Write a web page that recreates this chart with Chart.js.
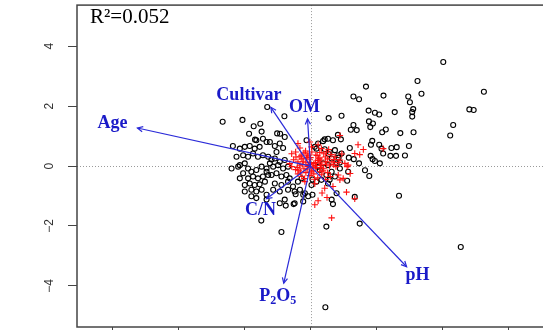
<!DOCTYPE html>
<html>
<head>
<meta charset="utf-8">
<script src="https://cdn.jsdelivr.net/npm/chart.js@4.4.1/dist/chart.umd.min.js"></script>
<style>
  html, body { margin: 0; padding: 0; overflow: hidden; background: #fff; }
  canvas { display: block; }
</style>
</head>
<body>
<canvas id="biplot" width="560" height="360"></canvas>
<script>
// sample scores (black circles)
const circleX = [4.02,3.24,5.25,1.68,3.36,1.30,1.47,2.21,2.96,3.01,3.11,3.08,3.08,4.81,4.94,1.76,1.95,2.08,2.55,0.94,
  0.55,4.32,4.23,1.77,1.89,1.30,1.22,1.40,1.81,2.28,2.17,2.72,3.12,0.83,0.92,-0.79,-1.52,-1.48,-2.66,-2.06,
  -1.72,-1.86,-1.31,-1.01,-0.92,-1.68,1.87,1.83,1.19,2.08,2.15,2.45,2.61,2.98,2.20,2.42,2.59,2.86,1.82,1.88,
  1.16,1.31,1.47,1.95,2.10,0.85,0.55,0.43,0.18,1.65,0.43,0.38,-0.12,0.13,0.23,0.53,0.68,0.58,0.74,0.84,
  0.94,-2.35,-2.14,-1.99,-1.84,-1.69,-1.54,-1.64,-1.44,-1.33,-1.23,-1.08,-0.93,-0.83,-0.78,-2.24,-2.04,-1.89,-1.74,-1.59,
  -1.44,-1.28,-1.23,-1.18,-1.08,-0.93,-0.78,-1.03,-2.39,-2.14,-1.99,-1.89,-1.79,-1.64,-1.48,-1.33,-1.13,-0.98,-0.83,-0.68,
  -2.19,-2.04,-2.14,-1.89,-1.74,-1.59,-1.44,-1.28,-1.33,-1.18,-1.03,-0.88,-0.73,-1.99,-1.84,-1.69,-1.54,-1.38,-1.08,-0.88,
  -0.68,-1.79,-1.64,-1.48,-1.99,-1.79,-1.64,-1.33,-1.13,-0.93,-0.68,-0.48,-0.32,-0.17,0.03,0.18,0.33,0.48,0.64,0.74,
  0.79,0.64,-0.48,-0.22,-0.07,-0.78,0.68,-0.38,-0.27,0.23,0.38,0.53,0.64,0.79,-0.93,-0.75,-0.51,-1.33,-1.49,-0.88,
  0.48,1.49,1.34,1.11,1.14,1.78,0.89,0.58,0.53,0.06,0.06,-0.22,-0.53,-0.45,-0.63,0.28,0.89,2.68,4.55,0.45];
const circleY = [3.47,2.84,2.48,2.65,2.41,2.32,2.23,2.35,2.32,2.13,1.90,1.80,1.65,1.89,1.87,1.85,1.78,1.72,1.80,1.68,
  1.60,1.37,1.02,1.49,1.42,1.37,1.21,1.20,1.30,1.22,1.13,1.10,1.13,1.04,0.89,1.66,1.41,1.15,1.48,1.54,
  1.33,1.08,1.97,1.09,1.08,0.88,0.84,0.71,0.60,0.71,0.58,0.60,0.63,0.67,0.42,0.34,0.34,0.35,0.34,0.23,
  0.28,0.23,0.09,0.17,0.09,0.28,0.40,0.56,0.58,-0.14,0.89,0.83,0.86,0.64,0.75,0.91,0.86,0.47,0.53,0.36,
  0.42,0.67,0.58,0.64,0.67,0.58,0.64,0.86,0.91,0.80,0.80,0.67,0.75,0.60,0.97,0.31,0.36,0.31,0.42,0.31,
  0.36,0.31,0.09,0.22,0.25,0.14,0.20,0.47,-0.08,0.03,0.09,-0.08,-0.19,-0.13,-0.02,-0.08,-0.02,0.03,-0.08,-0.02,
  -0.02,-0.24,-0.41,-0.41,-0.35,-0.41,-0.35,-0.30,-0.19,-0.30,-0.24,-0.35,-0.30,-0.63,-0.58,-0.63,-0.61,-0.52,-0.58,-0.63,
  -0.52,-0.79,-0.85,-0.79,-0.85,-1.01,-1.07,-0.96,-0.79,-0.85,-0.79,-0.85,-0.79,-0.91,-0.63,-0.52,-0.46,-0.30,-0.19,-0.35,
  -0.91,-1.12,-1.24,-1.18,-1.01,-1.12,-1.27,-0.52,-0.41,-0.02,0.09,0.03,0.25,0.09,-1.24,-1.32,-1.27,-1.12,-1.82,-2.20,
  -2.02,-1.92,-1.03,-0.49,-0.19,-0.33,-0.08,-0.46,-0.58,-0.45,-0.96,-0.96,-0.68,-0.94,-0.41,-0.13,0.12,-0.99,-2.70,-4.71];

// second group (red crosses)
const crossX = [-0.38,0.03,0.23,0.33,0.48,0.74,0.89,1.04,1.11,1.44,2.20,1.34,1.49,1.14,1.09,0.89,0.99,0.84,0.89,0.68,
  1.34,0.64,0.13,0.23,0.43,0.28,-0.57,-0.45,-0.32,-0.20,-0.08,0.04,0.16,0.28,0.40,0.52,-0.51,-0.38,-0.26,-0.14,
  -0.02,0.10,0.22,0.34,0.46,0.58,-0.57,-0.45,-0.32,-0.20,-0.08,0.04,0.16,0.28,0.40,0.52,-0.38,-0.26,-0.14,-0.02,
  0.10,0.22,0.34,0.46,-0.17,0.13,-0.63,0.65,0.77,-0.32,-0.02,-0.05,0.07,-0.10,0.15,-0.25,0.30,0.00,-0.40,0.45,
  0.60,-0.30,0.20,0.55,0.70,-0.15,1.60,0.95,1.20,0.35,0.50,
  -0.22,-0.12,-0.02,0.08,0.18,0.28,-0.35,0.38,-0.44,0.48,-0.18,0.12,0.02,-0.08,0.24,-0.28,0.32,0.62,0.72,0.84];
const crossY = [0.75,0.64,0.71,0.58,0.47,0.31,0.20,0.09,-0.02,0.71,0.58,0.42,0.38,0.03,-0.87,1.02,-0.41,-0.30,-0.46,-0.68,
  -1.09,-1.73,-1.29,-1.16,-0.74,0.45,0.41,0.47,0.31,0.44,0.34,0.47,0.37,0.27,0.41,0.24,0.21,0.14,0.24,0.11,
  0.21,0.08,0.18,0.04,0.14,0.01,-0.02,-0.12,0.01,-0.09,-0.02,-0.16,-0.06,-0.19,-0.09,-0.22,-0.26,-0.35,-0.22,-0.32,
  -0.26,-0.39,-0.29,-0.45,-0.52,-0.59,0.08,0.14,-0.02,0.60,0.80,0.05,0.00,-0.10,0.12,0.05,-0.05,0.28,-0.05,0.30,
  -0.35,-0.20,0.35,0.55,0.05,0.50,0.55,0.40,-0.25,-0.90,-1.05,
  0.16,0.28,0.12,-0.06,0.02,0.10,-0.14,-0.16,0.30,0.06,-0.42,-0.44,-0.20,0.40,0.24,0.36,0.20,0.38,0.22,0.12];

// environmental vectors
const vectorNames = ['Age', 'Cultivar', 'OM', 'C/N', 'P2O5', 'pH'];
const vectorX = [-5.24, -1.20, -0.09, -1.33, -0.81, 2.91];
const vectorY = [1.27, 1.96, 1.57, -1.09, -3.91, -3.36];

const r2Text = 'R²=0.052';

const blue = '#1a1ac8';
const arrowBlue = '#2a2ad8';
const labelShift = { 'Age': [-25, -5], 'Cultivar': [-22, -12], 'OM': [-3, -12], 'C/N': [-6, 12], 'P2O5': [-6, 13], 'pH': [11, 9] };

const arrowSets = vectorNames.map((n, i) => ({
  label: n,
  data: [{ x: 0, y: 0 }, { x: vectorX[i], y: vectorY[i] }],
  showLine: true,
  borderColor: arrowBlue,
  borderWidth: 1.2,
  pointRadius: 0,
  fill: false
}));

const biplotDecor = {
  id: 'biplotDecor',
  beforeDatasetsDraw(chart) {
    const { ctx, chartArea: a, scales: { x, y } } = chart;
    ctx.save();
    ctx.strokeStyle = '#9a9a9a';
    ctx.lineWidth = 1;
    ctx.setLineDash([1, 2]);
    const x0 = Math.round(x.getPixelForValue(0)) + 0.5;
    const y0 = Math.round(y.getPixelForValue(0)) + 0.5;
    ctx.beginPath();
    ctx.moveTo(x0, a.top); ctx.lineTo(x0, a.bottom);
    ctx.moveTo(a.left, y0); ctx.lineTo(a.right, y0);
    ctx.stroke();
    ctx.restore();
  },
  afterDatasetsDraw(chart) {
    const { ctx, scales: { x, y } } = chart;
    const ox = x.getPixelForValue(0), oy = y.getPixelForValue(0);
    ctx.save();
    // arrow heads
    ctx.strokeStyle = arrowBlue;
    ctx.lineWidth = 1.2;
    vectorNames.forEach((n, i) => {
      const tx = x.getPixelForValue(vectorX[i]);
      const ty = y.getPixelForValue(vectorY[i]);
      const ang = Math.atan2(ty - oy, tx - ox);
      ctx.beginPath();
      ctx.moveTo(tx - 6 * Math.cos(ang - 0.45), ty - 6 * Math.sin(ang - 0.45));
      ctx.lineTo(tx, ty);
      ctx.lineTo(tx - 6 * Math.cos(ang + 0.45), ty - 6 * Math.sin(ang + 0.45));
      ctx.stroke();
    });
    // labels
    ctx.fillStyle = blue;
    ctx.textBaseline = 'middle';
    vectorNames.forEach((n, i) => {
      const cx = x.getPixelForValue(vectorX[i]) + labelShift[n][0];
      const cy = y.getPixelForValue(vectorY[i]) + labelShift[n][1];
      if (n === 'P2O5') {
        const big = 'bold 18px "Liberation Serif"', small = 'bold 12px "Liberation Serif"';
        const parts = [['P', big, 0], ['2', small, 5], ['O', big, 0], ['5', small, 5]];
        let w = 0;
        parts.forEach(p => { ctx.font = p[1]; w += ctx.measureText(p[0]).width; });
        let px = cx - w / 2;
        ctx.textAlign = 'left';
        parts.forEach(p => { ctx.font = p[1]; ctx.fillText(p[0], px, cy + p[2]); px += ctx.measureText(p[0]).width; });
      } else {
        ctx.font = 'bold 18px "Liberation Serif"';
        ctx.textAlign = 'center';
        ctx.fillText(n, cx, cy);
      }
    });
    ctx.restore();
  },
  afterDraw(chart) {
    const { ctx, chartArea: a, scales: { y } } = chart;
    ctx.save();
    ctx.strokeStyle = '#444';
    ctx.lineWidth = 1.5;
    ctx.strokeRect(a.left, a.top, a.right - a.left, a.bottom - a.top);
    // rotated y tick labels
    ctx.fillStyle = '#333';
    ctx.font = '12px "Liberation Sans"';
    ctx.textAlign = 'center';
    ctx.textBaseline = 'middle';
    y.ticks.forEach(t => {
      const py = y.getPixelForValue(t.value);
      ctx.save();
      ctx.translate(a.left - 27, py);
      ctx.rotate(-Math.PI / 2);
      ctx.fillText(t.value < 0 ? '\u2212' + Math.abs(t.value) : String(t.value), 0, 0);
      ctx.restore();
    });
    // R squared
    ctx.fillStyle = '#000';
    ctx.font = '21px "Liberation Serif"';
    ctx.textAlign = 'left';
    ctx.textBaseline = 'alphabetic';
    ctx.fillText(r2Text, a.left + 13, 23);
    ctx.restore();
  }
};

const axisGrid = { drawOnChartArea: false, drawTicks: true, tickLength: 9, color: '#444', lineWidth: 1 };

new Chart(document.getElementById('biplot'), {
  type: 'scatter',
  data: {
    datasets: [
      ...arrowSets,
      {
        label: 'group 2',
        data: crossX.map((v, i) => ({ x: v, y: crossY[i] })),
        pointStyle: 'cross',
        pointRadius: 3.2,
        borderColor: '#ff1010',
        borderWidth: 1.1,
        backgroundColor: '#ff1010'
      },
      {
        label: 'group 1',
        data: circleX.map((v, i) => ({ x: v, y: circleY[i] })),
        pointStyle: 'circle',
        pointRadius: 2.5,
        borderColor: '#000',
        borderWidth: 1.1,
        backgroundColor: 'rgba(0,0,0,0)'
      }
    ]
  },
  options: {
    responsive: false,
    animation: false,
    layout: { padding: { left: 68, top: 2, right: 16, bottom: 24 } },
    plugins: { legend: { display: false }, tooltip: { enabled: false } },
    scales: {
      x: {
        type: 'linear', min: -7.07, max: 7.07,
        ticks: { stepSize: 2, includeBounds: false, display: false },
        grid: axisGrid,
        border: { display: false }
      },
      y: {
        type: 'linear', min: -5.37, max: 5.37,
        ticks: { stepSize: 2, includeBounds: false, display: false },
        grid: axisGrid,
        border: { display: false }
      }
    }
  },
  plugins: [biplotDecor]
});
</script>
</body>
</html>
